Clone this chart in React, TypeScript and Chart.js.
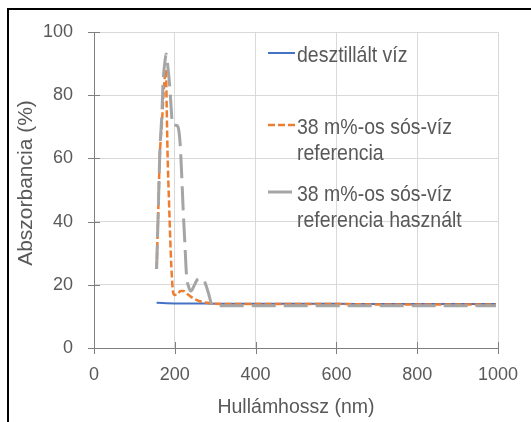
import React, { useEffect, useRef } from 'react';
import { Chart, registerables } from 'chart.js';

Chart.register(...registerables);

// ---- data ----
const seriesNames = [
  'desztillált víz',
  '38 m%-os sós-víz referencia',
  '38 m%-os sós-víz referencia használt',
];
const seriesColors = ['#4472C4', '#ED7D31', '#A5A5A5'];

const waterX = [155, 200, 250, 300, 400, 500, 600, 700, 800, 900, 995];
const waterY = [14.3, 14.1, 14.1, 14.0, 14.0, 14.0, 14.0, 13.9, 13.9, 13.9, 13.9];

const refX = [155, 159, 163, 168, 172, 176, 178, 180, 182, 186, 190, 193, 196, 200, 206, 214, 222, 232, 245, 262, 280, 300, 350, 400, 500, 600, 700, 800, 900, 995];
const refY = [25, 43, 61, 71, 80, 87, 88, 76, 62, 45, 30, 22, 17.5, 16.8, 16.9, 18.0, 18.0, 17.0, 15.8, 14.8, 14.3, 14.0, 13.9, 13.9, 13.9, 13.9, 13.8, 13.8, 13.8, 13.8];

const usedX = [155, 159, 163, 168, 171, 175, 179, 182, 186, 190, 194, 198, 203, 208, 213, 217, 221, 225, 229, 234, 240, 247, 255, 264, 273, 283, 291, 300, 350, 400, 500, 600, 700, 800, 900, 995];
const usedY = [25, 43, 62, 74, 84, 90, 93, 90, 85, 78, 71, 70.5, 70.5, 70, 65, 55, 43, 33, 23, 19.5, 18, 19.5, 21.5, 22, 21.2, 17.5, 14, 13.4, 13.4, 13.4, 13.4, 13.4, 13.4, 13.4, 13.4, 13.4];

const xTicks = [0, 200, 400, 600, 800, 1000];
const yTicks = [0, 20, 40, 60, 80, 100];
const xTitle = 'Hullámhossz (nm)';
const yTitle = 'Abszorbancia (%)';

const FONT = '"Liberation Sans", Arial, sans-serif';
const TEXT = '#595959';
const AXIS = '#7F7F7F';
const GRID = '#D9D9D9';

function wrapText(ctx: CanvasRenderingContext2D, text: string, maxW: number): string[] {
  const words = text.split(' ');
  const lines: string[] = [];
  let cur = '';
  for (const w of words) {
    const t = cur ? cur + ' ' + w : w;
    if (cur && ctx.measureText(t).width > maxW) {
      lines.push(cur);
      cur = w;
    } else cur = t;
  }
  if (cur) lines.push(cur);
  return lines;
}

const decorPlugin = {
  id: 'decor',
  afterDraw(chart: any) {
    const ctx: CanvasRenderingContext2D = chart.ctx;
    const xs = chart.scales.x;
    const ys = chart.scales.y;
    const area = chart.chartArea;
    ctx.save();
    // crossing tick marks
    ctx.strokeStyle = AXIS;
    ctx.lineWidth = 1;
    ctx.beginPath();
    xTicks.forEach((v) => {
      const px = Math.round(xs.getPixelForValue(v)) + 0.5;
      ctx.moveTo(px, area.bottom - 6);
      ctx.lineTo(px, area.bottom + 6);
    });
    yTicks.forEach((v) => {
      const py = Math.round(ys.getPixelForValue(v)) + 0.5;
      ctx.moveTo(area.left - 6, py);
      ctx.lineTo(area.left + 6, py);
    });
    ctx.stroke();

    // y axis title
    ctx.fillStyle = TEXT;
    ctx.font = `21px ${FONT}`;
    ctx.textAlign = 'center';
    ctx.textBaseline = 'middle';
    ctx.save();
    ctx.translate(26, 183);
    ctx.rotate(-Math.PI / 2);
    ctx.fillText(yTitle, 0, 0);
    ctx.restore();

    // legend
    const baselines = [61.5, 133.5, 200.5];
    const lineGap = 26.5;
    const dashes = [[], [7, 3], [24, 8]];
    const widths = [2, 2.5, 3];
    ctx.font = `19.5px ${FONT}`;
    ctx.textAlign = 'left';
    ctx.textBaseline = 'alphabetic';
    seriesNames.forEach((name, i) => {
      const lines = wrapText(ctx, name, 205);
      const b = baselines[i];
      ctx.save();
      ctx.strokeStyle = seriesColors[i];
      ctx.lineWidth = widths[i];
      ctx.setLineDash(dashes[i]);
      ctx.beginPath();
      ctx.moveTo(268, b - 8.5);
      ctx.lineTo(295, b - 8.5);
      ctx.stroke();
      ctx.restore();
      lines.forEach((ln, k) => {
        ctx.save();
        ctx.translate(297, b + k * lineGap);
        ctx.scale(1, 1.12);
        ctx.fillStyle = TEXT;
        ctx.fillText(ln, 0, 0);
        ctx.restore();
      });
    });
    ctx.restore();
  },
};

export default function App() {
  const ref = useRef<HTMLCanvasElement | null>(null);

  useEffect(() => {
    if (!ref.current) return;
    const mk = (xv: number[], yv: number[]) => xv.map((x, i) => ({ x, y: yv[i] }));
    const chart = new Chart(ref.current, {
      type: 'line',
      data: {
        datasets: [
          {
            label: seriesNames[0],
            data: mk(waterX, waterY),
            borderColor: seriesColors[0],
            borderWidth: 2,
            pointRadius: 0,
            cubicInterpolationMode: 'monotone',
            order: 3,
          },
          {
            label: seriesNames[1],
            data: mk(refX, refY),
            borderColor: seriesColors[1],
            borderWidth: 2.5,
            borderDash: [7, 3],
            pointRadius: 0,
            cubicInterpolationMode: 'monotone',
            order: 2,
          },
          {
            label: seriesNames[2],
            data: mk(usedX, usedY),
            borderColor: seriesColors[2],
            borderWidth: 3,
            borderDash: [24, 8],
            pointRadius: 0,
            cubicInterpolationMode: 'monotone',
            order: 1,
          },
        ],
      },
      options: {
        animation: false,
        responsive: false,
        maintainAspectRatio: false,
        layout: { padding: { left: 0, right: 33, top: 32, bottom: 0 } },
        plugins: { legend: { display: false }, tooltip: { enabled: false } },
        scales: {
          x: {
            type: 'linear',
            min: 0,
            max: 1000,
            afterFit: (s: any) => { s.height = 74; s.paddingLeft = 0; s.paddingRight = 0; },
            afterBuildTicks: (s: any) => { s.ticks = xTicks.map((v) => ({ value: v })); },
            grid: { color: GRID, lineWidth: 1, drawTicks: false },
            border: { display: true, color: AXIS, width: 1 },
            ticks: {
              padding: 16,
              color: TEXT,
              font: { family: FONT, size: 18 },
              maxRotation: 0,
              autoSkip: false,
              callback: (v: any) => String(v),
            },
            title: {
              display: true,
              text: xTitle,
              color: TEXT,
              font: { family: FONT, size: 19.5 },
              padding: { top: 0, bottom: 3 },
            },
          },
          y: {
            type: 'linear',
            min: 0,
            max: 100,
            afterFit: (s: any) => { s.width = 94; s.paddingTop = 0; s.paddingBottom = 0; },
            afterBuildTicks: (s: any) => { s.ticks = yTicks.map((v) => ({ value: v })); },
            grid: { color: GRID, lineWidth: 1, drawTicks: false },
            border: { display: true, color: AXIS, width: 1 },
            ticks: {
              padding: 21,
              color: TEXT,
              font: { family: FONT, size: 18 },
              callback: (v: any) => String(v),
            },
          },
        },
      } as any,
      plugins: [decorPlugin],
    });
    return () => chart.destroy();
  }, []);

  return (
    <div>
      <canvas
        ref={ref}
        width={531}
        height={422}
        style={{ position: 'absolute', left: 0, top: 0, width: 531, height: 422 }}
      />
      <div
        style={{
          position: 'absolute',
          left: 7,
          top: 8,
          width: 530,
          height: 420,
          borderTop: '2px solid #000',
          borderLeft: '2px solid #000',
          pointerEvents: 'none',
        }}
      />
    </div>
  );
}
